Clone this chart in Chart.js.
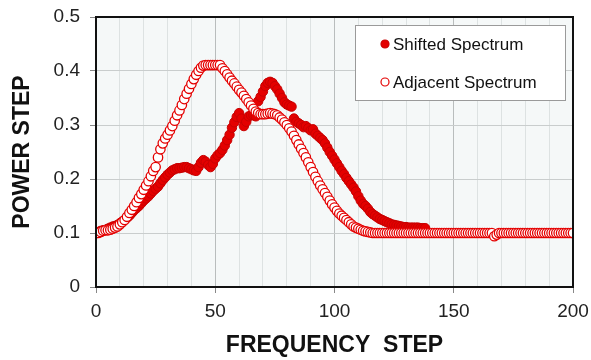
<!DOCTYPE html>
<html>
<head>
<meta charset="utf-8">
<script src="https://cdn.jsdelivr.net/npm/chart.js@4"></script>
<style>
html,body{margin:0;padding:0;background:#fff;}
#wrap{width:591px;height:360px;position:relative;}
</style>
</head>
<body>
<div id="wrap"><canvas id="c" width="591" height="360"></canvas></div>
<script>
// Series labels
const seriesNames = ["Shifted Spectrum", "Adjacent Spectrum"];
// Axis titles
const xTitle = "FREQUENCY  STEP";
const yTitle = "POWER STEP";
// Tick labels
const xTickLabels = ["0", "50", "100", "150", "200"];
const yTickLabels = ["0", "0.1", "0.2", "0.3", "0.4", "0.5"];

// Shifted spectrum, power at frequency step 0,1,2,...
const shifted = [
 0.100,0.102,0.104,0.105,0.106,0.108,0.110,0.112,0.113,0.115,
 0.118,0.121,0.124,0.128,0.132,0.137,0.142,0.146,0.150,0.155,
 0.160,0.164,0.168,0.173,0.178,0.182,0.186,0.192,0.198,0.203,
 0.208,0.212,0.216,0.218,0.220,0.220,0.221,0.222,0.222,0.220,
 0.218,0.216,0.215,0.222,0.230,0.235,0.232,0.226,0.222,0.228,
 0.238,0.244,0.248,0.254,0.262,0.272,0.282,0.295,0.305,0.315,
 0.322,0.312,0.298,0.306,0.316,0.318,0.318,0.316,0.344,0.352,
 0.362,0.372,0.378,0.380,0.378,0.372,0.366,0.358,0.350,0.342,
 0.338,0.336,0.334,0.312,0.306,0.303,0.300,0.296,0.298,0.294,
 0.290,0.292,0.284,0.280,0.276,0.272,0.266,0.258,0.250,0.243,
 0.236,0.229,0.222,0.215,0.209,0.202,0.196,0.190,0.184,0.177,
 0.168,0.160,0.154,0.150,0.145,0.139,0.135,0.132,0.129,0.126,
 0.124,0.122,0.120,0.118,0.116,0.115,0.114,0.113,0.112,0.111,
 0.111,0.110,0.110,0.110,0.110,0.110,0.109,0.109,0.109
];

// Adjacent spectrum, power at frequency step 0,1,2,...,200
const adjacent = [
 0.100,0.100,0.102,0.104,0.105,0.105,0.106,0.108,0.110,0.112,
 0.116,0.120,0.124,0.130,0.137,0.143,0.150,0.157,0.165,0.172,
 0.180,0.188,0.196,0.205,0.215,0.222,0.240,0.255,0.266,0.275,
 0.282,0.290,0.298,0.308,0.318,0.327,0.337,0.348,0.358,0.367,
 0.376,0.385,0.393,0.400,0.406,0.410,0.411,0.411,0.411,0.411,
 0.411,0.411,0.411,0.405,0.400,0.394,0.388,0.382,0.377,0.371,
 0.365,0.360,0.354,0.348,0.342,0.336,0.330,0.325,0.322,0.320,
 0.320,0.320,0.321,0.322,0.321,0.320,0.318,0.314,0.310,0.305,
 0.300,0.294,0.288,0.280,0.272,0.264,0.256,0.248,0.240,0.231,
 0.222,0.213,0.204,0.196,0.188,0.181,0.174,0.167,0.160,0.153,
 0.147,0.141,0.136,0.132,0.128,0.124,0.120,0.116,0.112,0.110,
 0.108,0.106,0.104,0.103,0.102,0.101,0.100,0.100,0.100,0.100,
 0.100,0.100,0.100,0.100,0.100,0.100,0.100,0.100,0.100,0.100,
 0.100,0.100,0.100,0.100,0.100,0.100,0.100,0.100,0.100,0.100,
 0.100,0.100,0.100,0.100,0.100,0.100,0.100,0.100,0.100,0.100,
 0.100,0.100,0.100,0.100,0.100,0.100,0.100,0.100,0.100,0.100,
 0.100,0.100,0.100,0.100,0.100,0.100,0.100,0.094,0.097,0.100,
 0.100,0.100,0.100,0.100,0.100,0.100,0.100,0.100,0.100,0.100,
 0.100,0.100,0.100,0.100,0.100,0.100,0.100,0.100,0.100,0.100,
 0.100,0.100,0.100,0.100,0.100,0.100,0.100,0.100,0.100,0.100,
 0.100
];

const RED = "rgb(228,0,0)";
const RED_DARK = "rgb(200,0,0)";

const toPoints = arr => arr.map((v, i) => ({x: i, y: v}));

const frame = {
  id: "frame",
  beforeDraw(chart) {
    const {ctx, chartArea: a} = chart;
    ctx.save();
    ctx.fillStyle = "#f5f8f8";
    ctx.fillRect(a.left, a.top, a.right - a.left, a.bottom - a.top);
    ctx.restore();
  },
  afterDatasetsDraw(chart) {
    const {ctx, chartArea: a} = chart;
    ctx.save();
    ctx.strokeStyle = "#111";
    ctx.lineWidth = 2;
    ctx.strokeRect(a.left, a.top, a.right - a.left, a.bottom - a.top);
    ctx.restore();
  },
  afterDraw(chart) {
    const {ctx, chartArea: a} = chart;
    const bx = a.right - 218, by = a.top + 8, bw = 210, bh = 75;
    ctx.save();
    ctx.fillStyle = "#fff";
    ctx.fillRect(bx, by, bw, bh);
    ctx.strokeStyle = "#9a9a9a";
    ctx.lineWidth = 1;
    ctx.strokeRect(bx + 0.5, by + 0.5, bw, bh);
    ctx.font = "17px 'Liberation Sans', Arial, sans-serif";
    ctx.textBaseline = "middle";
    ctx.fillStyle = "#111";
    const rows = [
      {y: by + 19, fill: RED, stroke: RED_DARK, name: seriesNames[0]},
      {y: by + 57, fill: "#fff", stroke: RED, name: seriesNames[1]}
    ];
    rows.forEach(r => {
      ctx.beginPath();
      ctx.arc(bx + 30, r.y, 4, 0, Math.PI * 2);
      ctx.fillStyle = r.fill;
      ctx.fill();
      ctx.lineWidth = 1.2;
      ctx.strokeStyle = r.stroke;
      ctx.stroke();
      ctx.fillStyle = "#111";
      ctx.fillText(r.name, bx + 38, r.y + 1);
    });
    ctx.restore();
  }
};

new Chart(document.getElementById("c"), {
  type: "scatter",
  data: {
    datasets: [
      {
        label: seriesNames[0],
        data: toPoints(shifted),
        order: 1,
        pointRadius: 4.7,
        pointHoverRadius: 4.7,
        pointBackgroundColor: RED,
        pointBorderColor: RED_DARK,
        pointBorderWidth: 1,
        showLine: false
      },
      {
        label: seriesNames[1],
        data: toPoints(adjacent),
        order: 0,
        pointRadius: 4.7,
        pointHoverRadius: 4.7,
        pointBackgroundColor: "#ffffff",
        pointBorderColor: RED,
        pointBorderWidth: 1.3,
        showLine: false
      }
    ]
  },
  options: {
    responsive: false,
    animation: false,
    events: [],
    layout: {padding: {left: 0, right: 18, top: 17, bottom: 0}},
    plugins: {legend: {display: false}, tooltip: {enabled: false}},
    scales: {
      x: {
        type: "linear",
        min: 0, max: 200,
        afterFit: s => { s.height = 73; s.paddingLeft = 0; s.paddingRight = 0; },
        afterBuildTicks: s => {
          const t = [];
          for (let v = 0; v <= 200; v += 10) t.push({value: v});
          s.ticks = t;
        },
        border: {display: false},
        grid: {
          color: c => (c.tick && c.tick.value % 50 === 0) ? "#b9bdbd" : "#dde2e2",
          tickColor: c => (c.tick && c.tick.value % 50 === 0) ? "#888" : "rgba(0,0,0,0)",
          tickLength: 6,
          lineWidth: 1
        },
        ticks: {
          autoSkip: false,
          maxRotation: 0,
          padding: 7,
          color: "#222",
          font: {family: "'Liberation Sans', Arial, sans-serif", size: 19},
          callback: v => (v % 50 === 0 ? xTickLabels[v / 50] : "")
        },
        title: {
          display: true,
          text: xTitle,
          color: "#111",
          font: {family: "'Liberation Sans', Arial, sans-serif", size: 23, weight: "bold"},
          padding: {top: 0, bottom: 1}
        }
      },
      y: {
        type: "linear",
        min: 0, max: 0.5,
        afterFit: s => { s.width = 96; s.paddingTop = 0; s.paddingBottom = 0; },
        border: {display: false},
        grid: {
          color: "#c9cdcd",
          tickColor: "#888",
          tickLength: 6,
          lineWidth: 1
        },
        ticks: {
          stepSize: 0.1,
          padding: 10,
          color: "#222",
          font: {family: "'Liberation Sans', Arial, sans-serif", size: 19},
          callback: (v) => yTickLabels[Math.round(v * 10)]
        },
        title: {
          display: true,
          text: yTitle,
          color: "#111",
          font: {family: "'Liberation Sans', Arial, sans-serif", size: 23, weight: "bold"},
          padding: {top: 9, bottom: 0}
        }
      }
    }
  },
  plugins: [frame]
});
</script>
</body>
</html>
